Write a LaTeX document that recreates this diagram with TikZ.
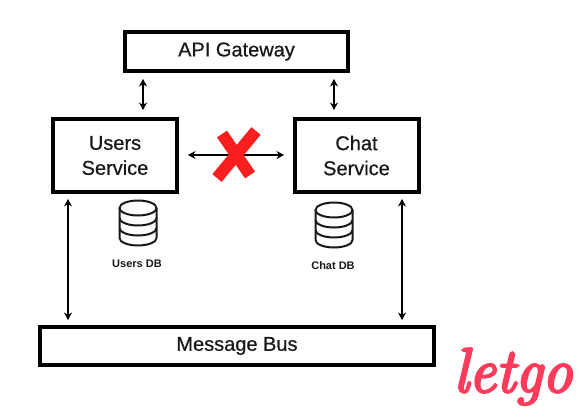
\documentclass[tikz,border=0pt]{standalone}
\usepackage{fontspec}
\setmainfont{Liberation Sans}
\newfontfamily\boxfont[FakeBold=0.6]{Liberation Sans}
\newfontfamily\logofont[ItalicFeatures={FakeBold=4}]{Latin Modern Roman}
\usetikzlibrary{arrows.meta,shapes.geometric}
\definecolor{xred}{HTML}{F91F1F}
\definecolor{logored}{HTML}{FF3B5C}
\tikzset{
  x=1pt,y=-1pt,
  boxnode/.style={draw=black,line width=4pt,fill=white,inner sep=0pt,align=center,font=\boxfont\fontsize{20}{24}\selectfont,text=black!90},
  link/.style={line width=1.5pt,{Stealth[length=7.5pt,width=8pt]}-{Stealth[length=7.5pt,width=8pt]}},
  dbline/.style={line width=2pt,black!90},
  dblabel/.style={font=\bfseries\fontsize{11}{13}\selectfont,text=black!90},
  cross/.style={line width=12pt,xred}
}
\newcommand{\dbicon}[2]{%
  \begin{scope}[shift={(#1,#2)}]
    \draw[dbline] (0,0) ellipse [x radius=18.5pt,y radius=7.5pt];
    \draw[dbline] (-18.5,0) -- (-18.5,30) arc [start angle=180,end angle=360,x radius=18.5pt,y radius=7.5pt] -- (18.5,0);
    \draw[dbline] (-18.5,10) arc [start angle=180,end angle=360,x radius=18.5pt,y radius=7.5pt];
    \draw[dbline] (-18.5,20) arc [start angle=180,end angle=360,x radius=18.5pt,y radius=7.5pt];
  \end{scope}}
\begin{document}
\begin{tikzpicture}
\useasboundingbox (0,0) rectangle (579,418);
\fill[white] (0,0) rectangle (579,418);
\node[boxnode,minimum width=223pt,minimum height=39pt] (api) at (236.5,51.5) {\raisebox{-2.5pt}{API Gateway}};
\node[boxnode,minimum width=124pt,minimum height=73pt] (users) at (115,155.5) {\raisebox{-1pt}{Users}\\[2pt]Service};
\node[boxnode,minimum width=124pt,minimum height=73pt] (chat) at (356.5,155.5) {\raisebox{-1pt}{Chat}\\[2pt]Service};
\node[boxnode,minimum width=394pt,minimum height=38pt] (bus) at (237,346) {\raisebox{-2.5pt}{Message Bus}};
\coordinate (a1) at (143,79); \coordinate (a2) at (143,110);
\coordinate (b1) at (334,79); \coordinate (b2) at (334,110);
\coordinate (c1) at (188,155); \coordinate (c2) at (284,155);
\coordinate (d1) at (68,199); \coordinate (d2) at (68,320);
\coordinate (e1) at (402,199); \coordinate (e2) at (402,320);
\draw[link] (a1) -- (a2);
\draw[link] (b1) -- (b2);
\draw[link] (c1) -- (c2);
\draw[link] (d1) -- (d2);
\draw[link] (e1) -- (e2);
\coordinate (x1) at (222,134); \coordinate (x2) at (250,175);
\coordinate (x3) at (256,131); \coordinate (x4) at (217,178);
\draw[cross] (x1) -- (x2);
\draw[cross] (x3) -- (x4);
\dbicon{138}{208}
\dbicon{334}{210}
\node[dblabel] (udb) at (137,264) {Users DB};
\node[dblabel] (cdb) at (333,266) {Chat DB};
\node[font=\logofont\itshape\fontsize{60}{60}\selectfont,text=logored,inner sep=0pt,anchor=base] (logo) at (513,392) {\scalebox{1}[1.05]{letgo}};
\end{tikzpicture}
\end{document}
